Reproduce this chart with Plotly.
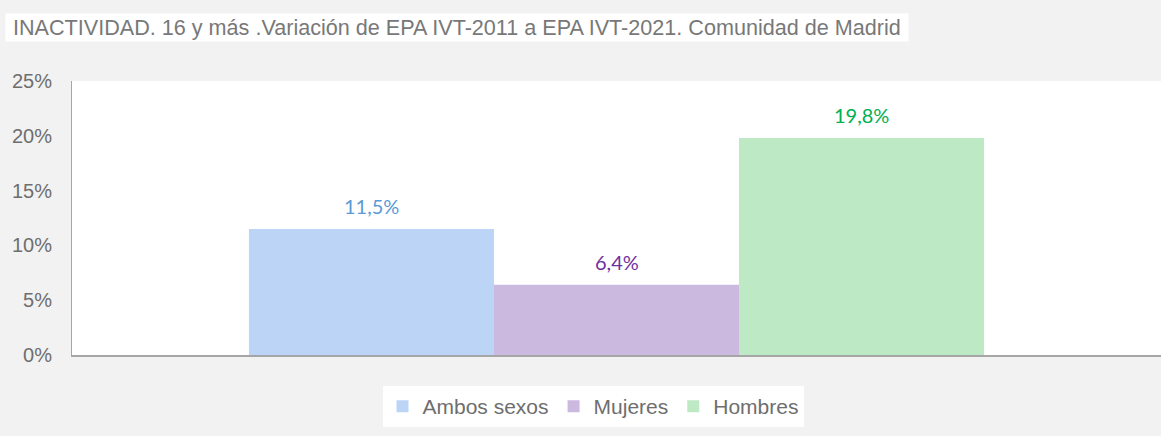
import plotly.graph_objects as go

series = ['Ambos sexos', 'Mujeres', 'Hombres']
values = [0.115, 0.064, 0.198]
bar_colors = ['#BCD5F7', '#CBB9E0', '#BEE9C5']
label_colors = ['#5B9BD5', '#7030A0', '#00B050']

fig = go.Figure()
for name, val, col in zip(series, values, bar_colors):
    fig.add_trace(go.Bar(
        name=name,
        x=[name],
        y=[val],
        width=1,
        marker_color=col,
        marker_line_width=0,
    ))

# etiquetas de datos sobre cada barra
labels = []
for name, val, lcol in zip(series, values, label_colors):
    labels.append(dict(
        x=name, y=val, xref='x', yref='y',
        text=f'{val * 100:.1f}%'.replace('.', ','),
        showarrow=False, yanchor='middle', yshift=23,
        font=dict(family='Lato, Carlito, Arial', size=20, color=lcol),
    ))

title = dict(
    text='\u00a0INACTIVIDAD. 16 y más .Variación de EPA IVT-2011 a EPA IVT-2021. Comunidad de Madrid\u00a0',
    xref='paper', yref='paper', x=(5 - 72) / 1089, y=1 + (81 - 13) / 274,
    xanchor='left', yanchor='top', showarrow=False,
    bgcolor='#FFFFFF', borderpad=1,
    font=dict(size=21.6, color='#787878', family='Liberation Sans, Arial'),
)

fig.update_layout(
    width=1161, height=436,
    barmode='overlay',
    separators=',.',
    paper_bgcolor='#F2F2F2',
    plot_bgcolor='#FFFFFF',
    margin=dict(l=72, r=0, t=81, b=81),
    font=dict(family='Liberation Sans, Arial', color='#6E6E6E', size=21),
    showlegend=True,
    legend=dict(
        orientation='h', x=(593 - 72) / 1089, xanchor='center', y=-31 / 274, yanchor='top',
        bgcolor='#FFFFFF', font=dict(size=21, color='#6E6E6E'),
        itemwidth=30, traceorder='normal',
    ),
    xaxis=dict(range=[-1.222, 3.222], showticklabels=False, showline=True,
               linecolor='#A6A6A6', linewidth=2, ticks='', showgrid=False),
    yaxis=dict(range=[0, 0.25], dtick=0.05, tickformat='.0%', showgrid=False,
               showline=True, linecolor='#A6A6A6', linewidth=1, zeroline=False,
               ticklabelstandoff=15, tickfont=dict(size=20, color='#6E6E6E')),
    annotations=[title] + labels,
)

fig.write_html('out.html', config={'displayModeBar': False},
               post_script="document.body.style.margin='0px';")
